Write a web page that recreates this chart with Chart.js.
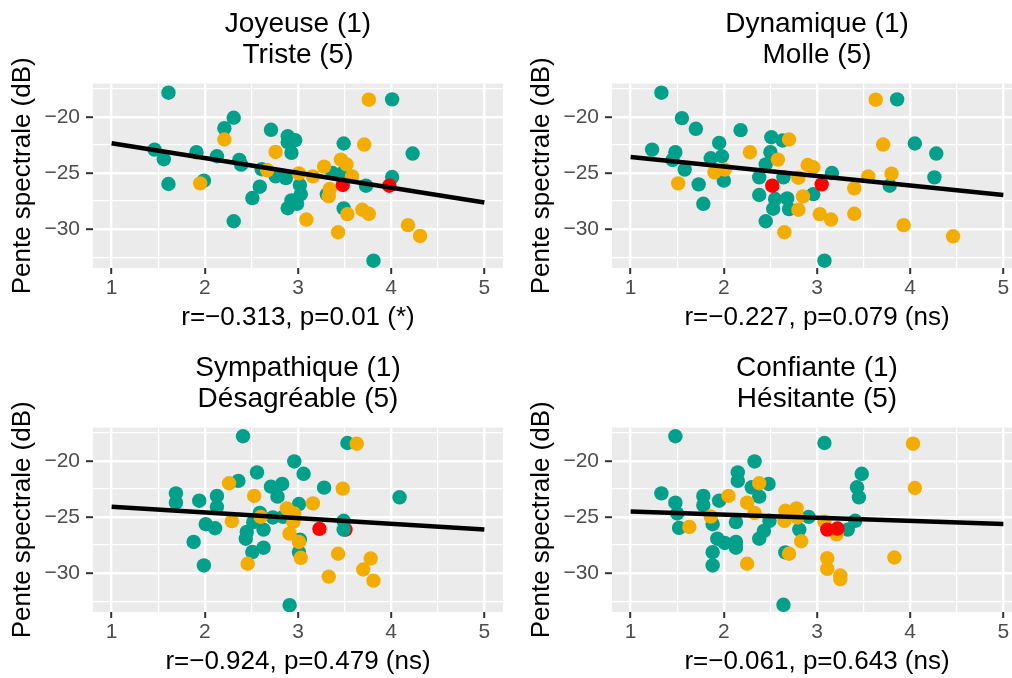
<!DOCTYPE html>
<html>
<head>
<meta charset="utf-8">
<script src="https://cdn.jsdelivr.net/npm/chart.js@4.4.0/dist/chart.umd.min.js"></script>
<style>
html, body { margin: 0; padding: 0; background: #fff; overflow: hidden; width: 1012px; height: 678px; }
.panel { position: absolute; width: 519px; height: 344px; }
</style>
</head>
<body>
<div class="panel" style="left:0;top:0"><canvas id="c1" width="519" height="344"></canvas></div>
<div class="panel" style="left:519px;top:0"><canvas id="c2" width="519" height="344"></canvas></div>
<div class="panel" style="left:0;top:344px"><canvas id="c3" width="519" height="344"></canvas></div>
<div class="panel" style="left:519px;top:344px"><canvas id="c4" width="519" height="344"></canvas></div>
<script>
// tick positions (majors get labels, halves are minor grid lines)
const xTicks = [1, 1.5, 2, 2.5, 3, 3.5, 4, 4.5, 5];
const yTicks = [-32.5, -30, -27.5, -25, -22.5, -20, -17.5];
const xRange = [0.8, 5.2];
const yRange = [-33.45, -17.05];

// Joyeuse / Triste
const joyTeal = [[1.61,-17.86],[4.01,-18.45],[2.31,-20.09],[2.21,-21.01],[2.71,-21.16],[2.89,-21.73],[2.97,-22.08],[2.89,-22.26],[2.93,-23.21],[3.49,-22.38],[4.23,-23.27],[1.46,-22.92],[1.56,-23.78],[1.91,-23.15],[2.13,-23.51],[2.37,-23.84],[2.39,-24.26],[1.61,-25.98],[1.99,-25.68],[2.61,-24.67],[2.76,-25.30],[2.87,-25.45],[3.37,-25.0],[3.49,-24.94],[3.73,-26.13],[4.01,-25.36],[3.02,-26.07],[3.03,-26.88],[2.93,-27.44],[2.99,-27.74],[2.89,-28.13],[2.59,-26.22],[2.51,-27.23],[2.31,-29.29],[3.49,-28.15],[3.31,-26.9],[3.81,-32.80]];
const joyOrange = [[3.76,-18.48],[2.21,-22.02],[3.71,-22.47],[2.76,-23.13],[1.95,-25.92],[2.67,-24.76],[3.01,-25.03],[3.16,-25.30],[3.28,-24.43],[3.46,-23.81],[3.52,-24.23],[3.58,-25.30],[3.34,-26.43],[3.33,-27.08],[3.09,-29.14],[3.53,-28.66],[3.69,-28.27],[3.76,-28.63],[3.43,-30.27],[4.18,-29.64],[4.31,-30.60]];
const joyRed = [[3.48,-26.07],[3.98,-26.13]];
const joyFit = [-22.35, -27.62];

// Dynamique / Molle
const dynTeal = [[1.33,-17.86],[3.86,-18.45],[1.55,-20.12],[1.70,-21.07],[2.18,-21.19],[2.51,-21.82],[2.63,-22.11],[1.95,-22.32],[4.05,-22.38],[4.28,-23.27],[1.23,-22.92],[1.48,-23.15],[1.45,-23.84],[1.58,-24.70],[1.86,-23.69],[1.98,-23.51],[2.50,-23.15],[2.45,-24.23],[1.73,-26.01],[2.0,-25.68],[1.78,-27.74],[2.38,-25.39],[2.64,-25.39],[3.16,-25.0],[2.96,-26.88],[2.38,-26.96],[2.55,-27.32],[2.68,-27.26],[2.53,-28.18],[2.70,-28.21],[2.45,-29.29],[3.78,-26.13],[4.26,-25.39],[3.08,-32.80]];
const dynOrange = [[3.63,-18.48],[2.70,-22.02],[3.71,-22.47],[2.28,-23.15],[2.58,-23.81],[1.90,-24.94],[2.01,-24.70],[1.51,-25.92],[2.80,-25.42],[2.90,-24.29],[2.96,-24.49],[2.85,-27.08],[2.80,-28.27],[2.65,-30.27],[3.03,-28.66],[3.15,-29.14],[3.40,-26.37],[3.55,-25.30],[3.80,-25.06],[3.40,-28.63],[3.93,-29.64],[4.46,-30.63]];
const dynRed = [[2.52,-26.13],[3.05,-26.01]];
const dynFit = [-23.57, -26.96];

// Sympathique / Désagréable
const symTeal = [[2.41,-17.82],[3.53,-18.42],[2.96,-20.06],[3.06,-21.16],[2.56,-21.04],[2.36,-21.79],[2.71,-22.30],[2.83,-22.06],[3.28,-22.39],[4.09,-23.25],[1.69,-22.90],[1.69,-23.73],[1.94,-23.55],[2.13,-23.13],[2.13,-24.09],[2.78,-23.19],[3.01,-23.85],[2.59,-24.63],[2.73,-25.04],[2.84,-24.99],[2.01,-25.64],[2.11,-26.0],[2.52,-25.46],[2.63,-26.12],[2.45,-26.33],[2.44,-26.93],[1.88,-27.22],[1.99,-29.31],[2.51,-28.12],[2.63,-27.73],[3.02,-27.01],[3.01,-28.12],[3.49,-25.34],[3.49,-26.12],[2.91,-32.84]];
const symOrange = [[3.63,-18.48],[2.26,-22.0],[3.48,-22.48],[2.53,-23.13],[3.16,-23.79],[2.88,-24.24],[2.60,-24.99],[2.96,-24.69],[2.95,-25.43],[2.29,-25.37],[2.91,-26.48],[3.01,-27.22],[3.03,-28.63],[2.46,-29.16],[3.43,-28.27],[3.33,-30.30],[3.78,-28.69],[3.70,-29.67],[3.81,-30.66]];
const symRed = [[3.23,-26.06],[3.51,-26.12]];
const symFit = [-24.09, -26.12];

// Confiante / Hésitante
const confTeal = [[1.48,-17.82],[3.08,-18.42],[2.33,-20.06],[2.15,-21.04],[2.15,-21.79],[2.30,-22.36],[2.48,-22.06],[3.48,-21.16],[3.43,-22.36],[3.45,-23.25],[1.33,-22.90],[1.48,-23.73],[1.50,-24.69],[1.52,-25.97],[1.78,-23.13],[1.78,-23.94],[1.88,-25.64],[1.95,-23.55],[2.38,-23.19],[2.13,-25.46],[1.93,-26.93],[2.01,-27.31],[2.13,-27.22],[2.13,-27.73],[1.88,-28.13],[1.88,-29.31],[2.43,-26.24],[2.38,-26.93],[2.49,-25.34],[2.91,-24.99],[2.81,-26.12],[2.66,-28.15],[2.64,-32.81],[3.33,-26.12],[3.41,-25.34]];
const confOrange = [[4.03,-18.48],[2.38,-22.0],[4.05,-22.42],[1.63,-25.88],[1.86,-24.96],[2.05,-23.13],[2.25,-23.73],[2.33,-24.63],[2.25,-29.16],[2.66,-24.45],[2.65,-25.34],[2.78,-24.24],[2.79,-25.04],[2.83,-27.16],[2.70,-28.27],[3.08,-25.43],[3.21,-26.54],[3.11,-28.66],[3.11,-29.61],[3.25,-30.21],[3.25,-30.54],[3.83,-28.60]];
const confRed = [[3.11,-26.12],[3.22,-26.03]];
const confFit = [-24.52, -25.63];

const TEAL = '#00A08A', ORANGE = '#F2AD00', RED = '#FF0000';
const FONT = "'Liberation Sans', Arial, sans-serif";

const panelBg = {
  id: 'panelBg',
  beforeDraw(chart) {
    const { ctx, chartArea: a } = chart;
    ctx.save();
    ctx.fillStyle = '#EBEBEB';
    ctx.fillRect(a.left, a.top, a.right - a.left, a.bottom - a.top);
    ctx.restore();
  }
};

const pts = arr => arr.map(([x, y]) => ({ x, y }));
const minus = v => String(v).replace('-', '\u2212');

function makePanel(id, title, xLabel, teal, orange, red, fit, redBelow) {
  const dot = (data, color, order) => ({
    data: pts(data), backgroundColor: color, borderWidth: 0,
    pointRadius: 7.2, pointHoverRadius: 7.2, order
  });
  new Chart(document.getElementById(id), {
    type: 'scatter',
    data: {
      datasets: [
        { data: [{ x: 1, y: fit[0] }, { x: 5, y: fit[1] }], showLine: true,
          borderColor: '#000', borderWidth: 4.5, pointRadius: 0, order: 0 },
        dot(red, RED, redBelow ? 4 : 1),
        dot(orange, ORANGE, 2),
        dot(teal, TEAL, 3)
      ]
    },
    options: {
      responsive: false,
      animation: false,
      layout: { padding: { left: 0, right: 16, top: 0, bottom: 0 } },
      plugins: {
        legend: { display: false },
        tooltip: { enabled: false },
        title: {
          display: true, text: title, fullSize: false, color: '#000',
          font: { family: FONT, size: 28, weight: 'normal', lineHeight: 1.1 },
          padding: { top: 9, bottom: 13 }
        }
      },
      scales: {
        x: {
          type: 'linear', min: xRange[0], max: xRange[1],
          afterBuildTicks: s => { s.ticks = xTicks.map(v => ({ value: v })); },
          afterFit: s => { s.height = 76; },
          border: { display: false },
          grid: {
            color: '#fff',
            lineWidth: c => Number.isInteger(c.tick.value) ? 2.4 : 1.2,
            tickColor: c => Number.isInteger(c.tick.value) ? '#333' : 'rgba(0,0,0,0)',
            tickWidth: 2, tickLength: 6
          },
          ticks: {
            autoSkip: false, maxRotation: 0, padding: 2, color: '#4D4D4D',
            font: { family: FONT, size: 21 },
            callback: v => Number.isInteger(v) ? String(v) : ''
          },
          title: {
            display: true, text: xLabel, color: '#000',
            font: { family: FONT, size: 26, lineHeight: 1.2 },
            padding: { top: 0, bottom: 11 }
          }
        },
        y: {
          type: 'linear', min: yRange[0], max: yRange[1],
          afterBuildTicks: s => { s.ticks = yTicks.map(v => ({ value: v })); },
          afterFit: s => { s.width = 93; },
          border: { display: false },
          grid: {
            color: '#fff',
            lineWidth: c => c.tick.value % 5 === 0 ? 2.4 : 1.2,
            tickColor: c => c.tick.value % 5 === 0 ? '#333' : 'rgba(0,0,0,0)',
            tickWidth: 2, tickLength: 7
          },
          ticks: {
            autoSkip: false, padding: 6, color: '#4D4D4D',
            font: { family: FONT, size: 21 },
            callback: v => v % 5 === 0 ? minus(v) : ''
          },
          title: {
            display: true, text: 'Pente spectrale (dB)', color: '#000',
            font: { family: FONT, size: 26, lineHeight: 1.2 },
            padding: { top: 7, bottom: 0 }
          }
        }
      }
    },
    plugins: [panelBg]
  });
}

makePanel('c1', ['Joyeuse (1)', 'Triste (5)'], 'r=\u22120.313, p=0.01 (*)', joyTeal, joyOrange, joyRed, joyFit, false);
makePanel('c2', ['Dynamique (1)', 'Molle (5)'], 'r=\u22120.227, p=0.079 (ns)', dynTeal, dynOrange, dynRed, dynFit, false);
makePanel('c3', ['Sympathique (1)', 'Désagréable (5)'], 'r=\u22120.924, p=0.479 (ns)', symTeal, symOrange, symRed, symFit, true);
makePanel('c4', ['Confiante (1)', 'Hésitante (5)'], 'r=\u22120.061, p=0.643 (ns)', confTeal, confOrange, confRed, confFit, false);
</script>
</body>
</html>
